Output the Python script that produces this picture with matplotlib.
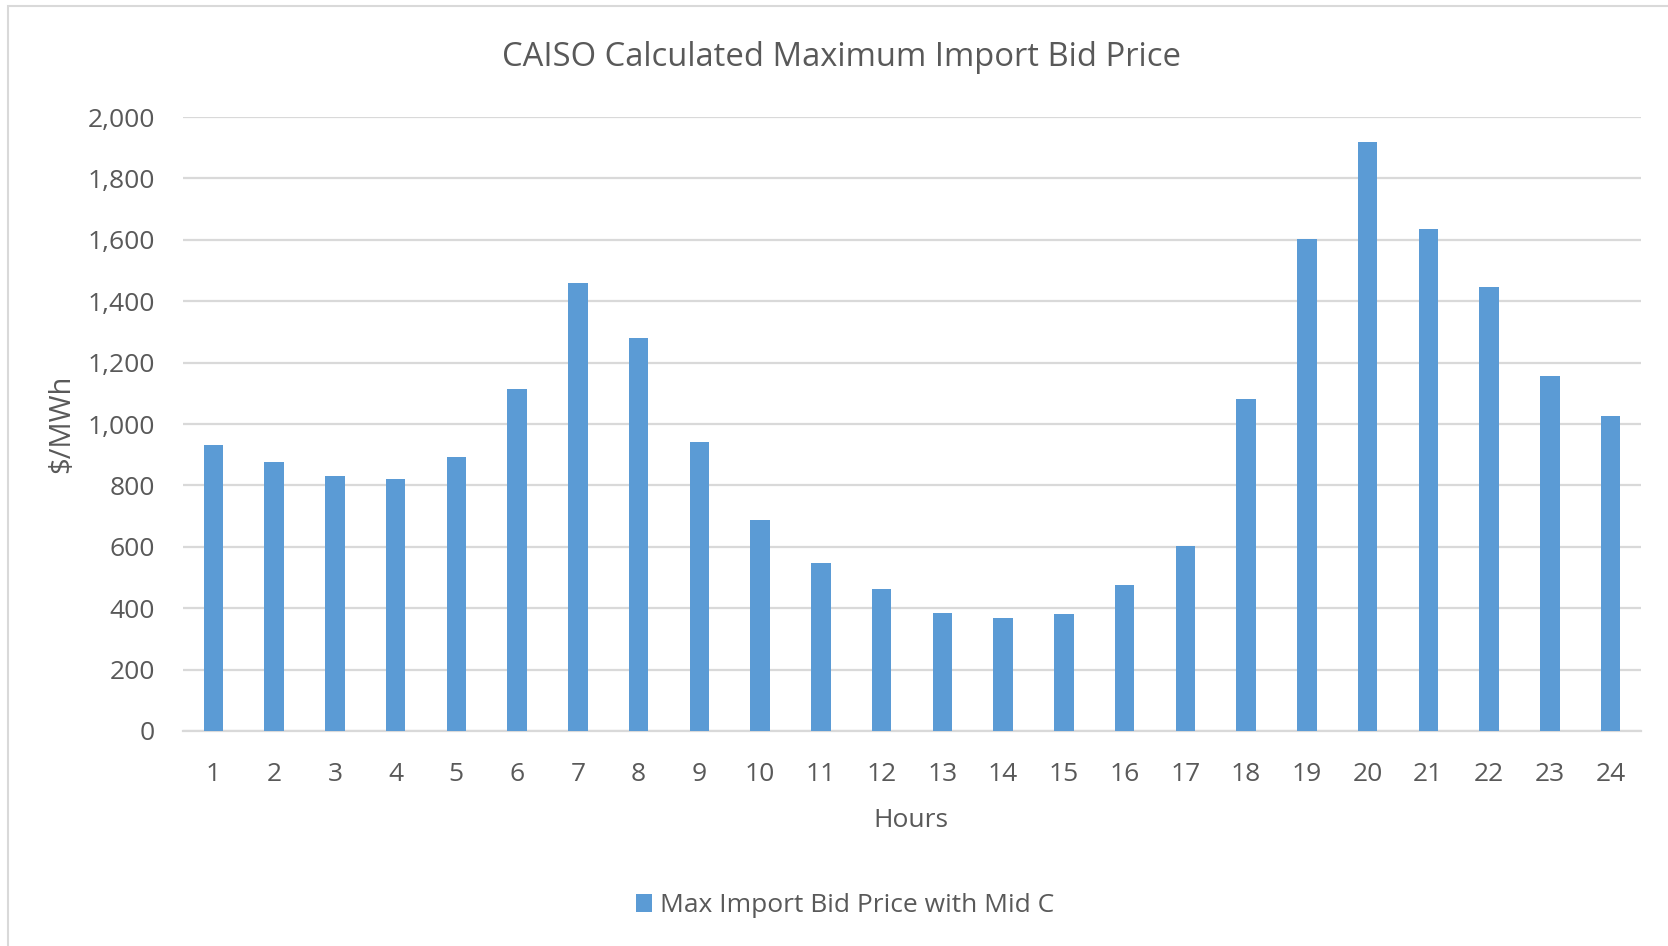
import matplotlib
matplotlib.use("Agg")
import matplotlib.pyplot as plt
from matplotlib.patches import Rectangle

hours = list(range(1, 25))
hour_labels = [str(h) for h in hours]
prices = [930, 875, 832, 822, 892, 1113, 1460, 1280, 940, 686, 548, 461,
          385, 367, 381, 474, 603, 1081, 1602, 1920, 1636, 1446, 1155, 1026]
yticks = [0, 200, 400, 600, 800, 1000, 1200, 1400, 1600, 1800, 2000]

title = "CAISO Calculated Maximum Import Bid Price"
xlabel = "Hours"
ylabel = "$/MWh"
series_name = "Max Import Bid Price with Mid C"

plt.rcParams['font.family'] = ['Open Sans', 'DejaVu Sans']
txt = '#595959'
grid = '#d9d9d9'
bar_color = '#5B9BD5'

W, H = 1668, 946
fig = plt.figure(figsize=(W / 100, H / 100), dpi=100)

# chart frame
fig.patches.append(Rectangle((8 / W, -0.05), 1.2, 1 - 6 / H + 0.05,
                             transform=fig.transFigure, fill=False,
                             edgecolor=grid, linewidth=1.5))

ax = fig.add_axes([183 / W, 1 - 731 / H, (1641 - 183) / W, (731 - 117) / H])
ax.bar(hours, prices, width=0.32, color=bar_color, zorder=3)
ax.set_xlim(0.5, 24.5)
ax.set_ylim(0, 2000)
ax.set_yticks(yticks)
ax.set_yticklabels([f"{v:,}" for v in yticks])
ax.set_xticks(hours)
ax.set_xticklabels(hour_labels)
ax.grid(axis='y', color=grid, linewidth=1.6, zorder=0)
ax.set_axisbelow(True)
for s in ['top', 'right', 'left']:
    ax.spines[s].set_visible(False)
ax.spines['bottom'].set_color(grid)
ax.spines['bottom'].set_linewidth(1.6)
ax.tick_params(axis='both', length=0, colors=txt, labelsize=19)
ax.tick_params(axis='y', pad=20)
ax.tick_params(axis='x', pad=22)

fig.text((503 + 1179) / 2 / W, 1 - 58 / H, title, ha='center', va='center',
         fontsize=23.6, color=txt)
fig.text(911 / W, 1 - 820 / H, xlabel, ha='center', va='center',
         fontsize=19, color=txt)
fig.text(62 / W, 1 - 424 / H, ylabel, ha='center', va='center',
         rotation=90, fontsize=21, color=txt)

# legend
fig.patches.append(Rectangle((636 / W, 1 - 912 / H), 16 / W, 18 / H,
                             transform=fig.transFigure, facecolor=bar_color,
                             edgecolor='none'))
fig.text(660 / W, 1 - 905 / H, series_name, ha='left', va='center',
         fontsize=19, color=txt)

fig.savefig("out.png", dpi=100)
